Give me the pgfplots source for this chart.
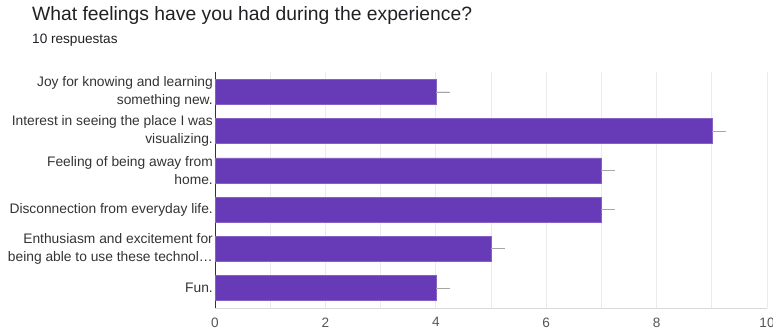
\documentclass[border=0pt]{standalone}
\usepackage{pgfplots}
\pgfplotsset{compat=1.18}
\usepackage{fontspec}
\setmainfont{Liberation Sans}
\definecolor{barpurple}{HTML}{673AB7}
\definecolor{titlecol}{HTML}{202124}
\definecolor{labcol}{HTML}{333333}
\definecolor{tickcol}{HTML}{555555}
\definecolor{gridcol}{HTML}{EBEBEB}
\begin{document}
\begin{tikzpicture}[x=1pt,y=1pt]
\useasboundingbox (0,0) rectangle (773,332);
\node[anchor=base west,inner sep=0,text=titlecol,font=\fontsize{19.3}{22}\selectfont] at (32,311) {What feelings have you had during the experience?};
\node[anchor=base west,inner sep=0,text=titlecol,font=\fontsize{13.6}{16}\selectfont] at (32,288) {10 respuestas};
\begin{axis}[
  at={(215pt,24pt)}, anchor=south west,
  scale only axis, width=552pt, height=236pt,
  xbar, bar width=25pt,
  xmin=0, xmax=10,
  ymin=-0.51, ymax=5.51, y dir=reverse,
  xtick={0,2,4,6,8,10},
  minor xtick={1,3,5,7,9},
  xmajorgrids, xminorgrids,
  major grid style={draw=gridcol, line width=0.8pt},
  minor grid style={draw=gridcol, line width=0.8pt},
  ytick={0,1,2,3,4,5},
  yticklabels={{Joy for knowing and learning\\something new.},
               {Interest in seeing the place I was\\visualizing.},
               {Feeling of being away from\\home.},
               {Disconnection from everyday life.},
               {Enthusiasm and excitement for\\being able to use these technol…},
               {Fun.}},
  yticklabel style={align=right, font=\fontsize{13.8}{18}\selectfont, text=labcol, inner xsep=2pt},
  xticklabel style={font=\fontsize{13.6}{16}\selectfont, text=tickcol},
  /pgf/number format/assume math mode=true,
  major tick length=0pt, minor tick length=0pt,
  axis x line*=bottom, axis y line*=left,
  x axis line style={draw=gray!30, -},
  y axis line style={draw=labcol, line width=0.8pt, -},
  xticklabel shift=6pt,
  tick style={draw=none},
]
\addplot[fill=barpurple, draw=barpurple!80!white,
  error bars/.cd, x dir=plus, x explicit,
  error mark=none,
  error bar style={draw=gray!70, line width=0.8pt}]
coordinates {
  (4,0) +- (0.25,0)
  (9,1) +- (0.25,0)
  (7,2) +- (0.25,0)
  (7,3) +- (0.25,0)
  (5,4) +- (0.25,0)
  (4,5) +- (0.25,0)
};
\end{axis}
\end{tikzpicture}
\end{document}
